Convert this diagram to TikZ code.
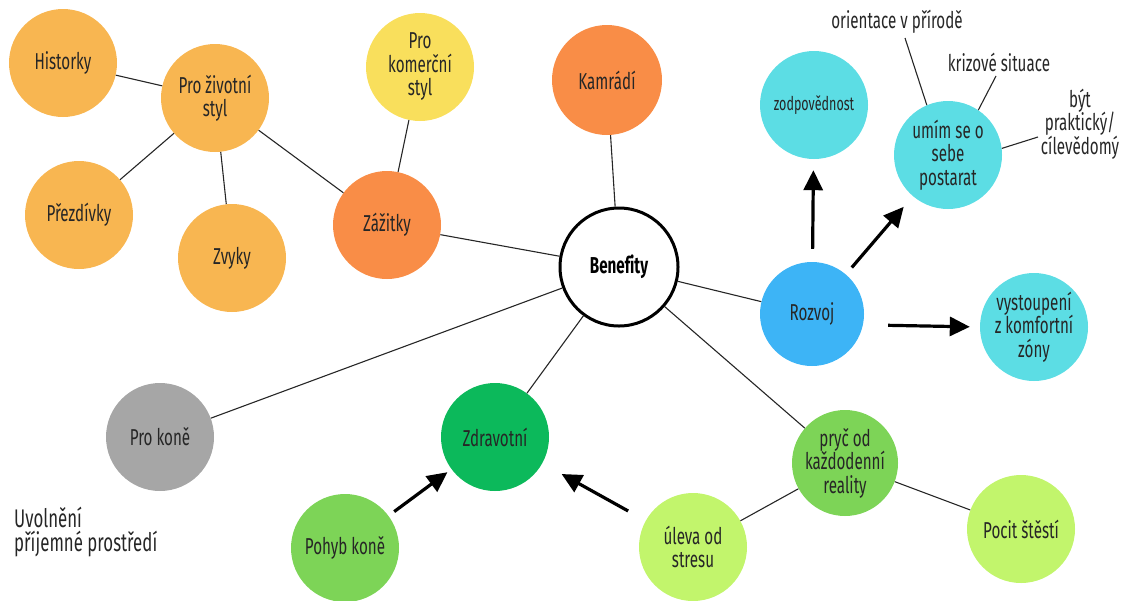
\documentclass[tikz,border=0pt]{standalone}
\usepackage{fontspec}
\setmainfont{Fira Sans}[FakeStretch=0.66]
\usetikzlibrary{arrows.meta}
\definecolor{txt}{HTML}{262626}
\definecolor{lorange}{HTML}{F8B651}
\definecolor{dorange}{HTML}{F98D47}
\definecolor{yell}{HTML}{F9DF5C}
\definecolor{cyanb}{HTML}{5CDDE4}
\definecolor{blueb}{HTML}{3DB4F6}
\definecolor{grayb}{HTML}{A6A6A6}
\definecolor{dgreen}{HTML}{0CB95B}
\definecolor{mgreen}{HTML}{7DD457}
\definecolor{lgreen}{HTML}{C2F56C}
\begin{document}
\begin{tikzpicture}[x=1pt,y=-1pt,
  bub/.style={circle, minimum size=108pt, inner sep=0pt, align=center, text=txt, font=\fontsize{23}{23.5}\selectfont},
  link/.style={draw=txt, line width=1.1pt},
  bigarrow/.style={line width=3.2pt, -{Triangle[length=20pt,width=19pt]}},
  lab/.style={text=txt, font=\fontsize{23}{23.5}\selectfont, align=center, inner sep=0pt}
]
\useasboundingbox (0,0) rectangle (1123,600);
% nodes
\node[bub, fill=lorange] (hist) at (63,63) {Historky};
\node[bub, fill=lorange] (life) at (215,98) {Pro životní\\styl};
\node[bub, fill=lorange] (prez) at (79,215) {Přezdívky};
\node[bub, fill=lorange] (zvyk) at (232,258) {Zvyky};
\node[bub, fill=dorange] (zaz) at (387,225) {Zážitky};
\node[bub, fill=yell] (kom) at (420,67) {Pro\\komerční\\styl};
\node[bub, fill=dorange, minimum size=110pt] (kam) at (607,80) {Kamrádí};
\node[circle, draw=black, line width=3pt, fill=white, minimum size=118pt, inner sep=0pt,
      font=\bfseries\fontsize{23}{24}\selectfont, text=black] (ben) at (619,267) {Benef\kern0pt ity};
\node[bub, fill=cyanb, font=\fontsize{19}{20}\selectfont] (zod) at (814,105) {zodpovědnost};
\node[bub, fill=cyanb] (umim) at (948,155) {umím se o\\sebe\\postarat};
\node[bub, fill=blueb, minimum size=104pt] (roz) at (812,314) {Rozvoj};
\node[bub, fill=cyanb] (vyst) at (1034,327) {vystoupení\\z komfortní\\zóny};
\node[bub, fill=grayb] (kone) at (160,437) {Pro koně};
\node[bub, fill=dgreen] (zdr) at (495,437) {Zdravotní};
\node[bub, fill=mgreen] (pohyb) at (345,548) {Pohyb koně};
\node[bub, fill=mgreen, minimum size=106pt] (pryc) at (845,463) {pryč od\\každodenní\\reality};
\node[bub, fill=lgreen] (uleva) at (693,547) {úleva od\\stresu};
\node[bub, fill=lgreen] (stest) at (1021,529) {Pocit štěstí};
% free labels
\node[lab] (ori) at (897,22) {orientace v přírodě};
\node[lab] (kriz) at (999,62) {krizové situace};
\node[lab] (byt) at (1080,124) {být\\praktický/\\cílevědomý};
\node[lab, align=left, anchor=west, font=\fontsize{25.5}{24}\selectfont] (uvol) at (14,532) {Uvolnění\\příjemné prostředí};
\coordinate (oriend) at (905,38);
\coordinate (krizend) at (996,76);
\coordinate (bytend) at (1038,137);
% links
\draw[link] (hist) -- (life);
\draw[link] (life) -- (prez);
\draw[link] (life) -- (zvyk);
\draw[link] (life) -- (zaz);
\draw[link] (kom) -- (zaz);
\draw[link] (zaz) -- (ben);
\draw[link] (kam) -- (ben);
\draw[link] (ben) -- (roz);
\draw[link] (ben) -- (kone);
\draw[link] (ben) -- (zdr);
\draw[link] (ben) -- (pryc);
\draw[link] (pryc) -- (uleva);
\draw[link] (pryc) -- (stest);
\draw[link] (oriend) -- (umim.113);
\draw[link] (krizend) -- (umim.56);
\draw[link] (bytend) -- (umim.7);
% arrows
\draw[bigarrow, shorten <=13pt, shorten >=11pt] (roz) -- (zod);
\draw[bigarrow, shorten <=9pt, shorten >=14pt] (roz) -- (umim);
\draw[bigarrow, shorten <=25pt, shorten >=10pt] (roz.-12) -- (vyst.west);
\draw[bigarrow, shorten <=7pt, shorten >=5pt] (pohyb) -- (zdr);
\draw[bigarrow, shorten <=20pt, shorten >=22pt] (uleva) -- (zdr);
\end{tikzpicture}
\end{document}
